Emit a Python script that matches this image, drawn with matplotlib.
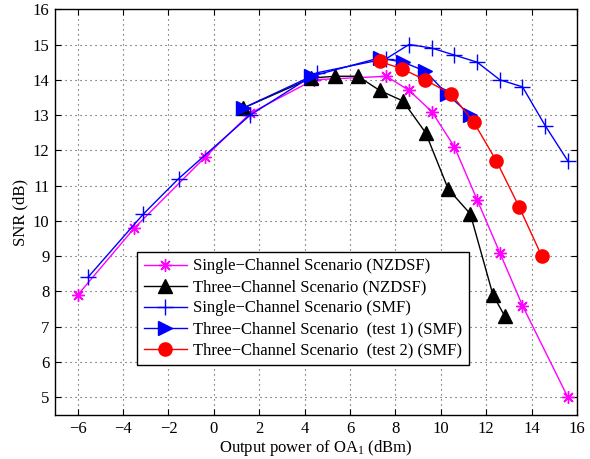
import matplotlib
matplotlib.use("Agg")
import matplotlib.pyplot as plt

plt.rcParams['font.family'] = ['Liberation Serif', 'DejaVu Serif']
plt.rcParams['mathtext.fontset'] = 'custom'
plt.rcParams['mathtext.rm'] = 'Liberation Serif'
plt.rcParams['mathtext.it'] = 'Liberation Serif:italic'

# Data
x_single_nzdsf = [-6.0, -3.5, -0.4, 1.6, 4.4, 7.6, 8.6, 9.6, 10.6, 11.6, 12.6, 13.6, 15.6]
y_single_nzdsf = [7.9, 9.8, 11.8, 13.05, 14.0, 14.1, 13.7, 13.1, 12.1, 10.6, 9.1, 7.6, 5.0]

x_three_nzdsf = [1.3, 4.3, 5.35, 6.35, 7.3, 8.33, 9.33, 10.33, 11.3, 12.3, 12.82]
y_three_nzdsf = [13.2, 14.05, 14.1, 14.1, 13.7, 13.4, 12.5, 10.9, 10.2, 7.9, 7.3]

x_single_smf = [-5.55, -3.1, -1.55, 1.6, 4.55, 7.6, 8.6, 9.6, 10.6, 11.6, 12.6, 13.6, 14.6, 15.6]
y_single_smf = [8.4, 10.2, 11.2, 13.0, 14.2, 14.6, 15.0, 14.9, 14.7, 14.5, 14.0, 13.8, 12.7, 11.7]

x_test1 = [1.3, 4.3, 7.3, 8.33, 9.3, 10.27, 11.3]
y_test1 = [13.2, 14.1, 14.62, 14.5, 14.25, 13.6, 13.0]

x_test2 = [7.3, 8.3, 9.3, 10.45, 11.45, 12.45, 13.45, 14.45]
y_test2 = [14.52, 14.31, 14.0, 13.6, 12.8, 11.7, 10.4, 9.0]

labels = [
    "Single\u2212Channel Scenario (NZDSF)",
    "Three\u2212Channel Scenario (NZDSF)",
    "Single\u2212Channel Scenario (SMF)",
    "Three\u2212Channel Scenario  (test 1) (SMF)",
    "Three\u2212Channel Scenario  (test 2) (SMF)",
]
x_ticks = [-6, -4, -2, 0, 2, 4, 6, 8, 10, 12, 14, 16]
y_ticks = [5, 6, 7, 8, 9, 10, 11, 12, 13, 14, 15, 16]

fig = plt.figure(figsize=(5.9, 4.59), dpi=100)
ax = fig.add_axes([0.0932, 0.0959, 0.8847, 0.884])

lw = 1.0
ax.plot(x_single_nzdsf, y_single_nzdsf, color='#ff00ff', lw=lw, marker=(8, 2, 0),
        ms=9, mew=1.0, label=labels[0])
ax.plot(x_three_nzdsf, y_three_nzdsf, color='black', lw=lw, marker='^',
        ms=10.5, label=labels[1])
ax.plot(x_single_smf, y_single_smf, color='#0000ff', lw=lw, marker='+',
        ms=11, mew=1.0, label=labels[2])
ax.plot(x_test1, y_test1, color='#0000ff', lw=lw, marker='>',
        ms=10.5, label=labels[3])
ax.plot(x_test2, y_test2, color='#ff0000', lw=lw, marker='o',
        ms=9.5, label=labels[4])

ax.set_xlim(-7, 16)
ax.set_ylim(4.5, 16)
ax.set_xticks(x_ticks)
ax.set_yticks(y_ticks)
ax.tick_params(direction='in', top=True, right=True, labelsize=12, length=4, pad=4)
ax.grid(True, linestyle=(0, (1, 3.5)), color='#444444', linewidth=0.8)
for s in ax.spines.values():
    s.set_linewidth(1.0)

ax.set_xlabel("Output power of OA$_1$ (dBm)", fontsize=12, labelpad=1)
ax.set_ylabel("SNR (dB)", fontsize=12, labelpad=3)

leg = ax.legend(loc='lower left', bbox_to_anchor=(0.157, 0.123), fontsize=12,
                frameon=True, fancybox=False, framealpha=1, edgecolor='black',
                handlelength=2.6, handletextpad=0.35, labelspacing=0.3,
                borderpad=0.4, borderaxespad=0)
leg.get_frame().set_linewidth(1.0)

fig.savefig("out.png", dpi=100)
